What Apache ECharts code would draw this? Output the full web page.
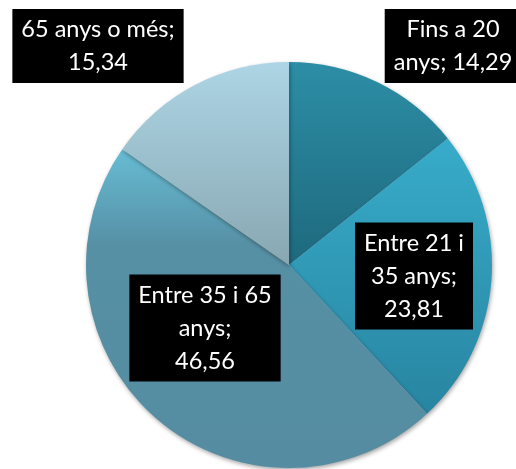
<!DOCTYPE html>
<html>
<head>
<meta charset="utf-8">
<script src="https://cdn.jsdelivr.net/npm/echarts@6/dist/echarts.min.js"></script>
<style>
  html, body { margin: 0; padding: 0; background: #fff; }
  #chart { width: 516px; height: 469px; }
</style>
</head>
<body>
<div id="chart"></div>
<script>
const categories = ['Fins a 20 anys', 'Entre 21 i 35 anys', 'Entre 35 i 65 anys', '65 anys o més'];
const values = [14.29, 23.81, 46.56, 15.34];
// label text as wrapped in the original
const labelTexts = ['Fins a 20\nanys; ', 'Entre 21 i\n35 anys;\n', 'Entre 35 i 65\nanys;\n', '65 anys o més;\n'];

const sliceGradients = [
    ['#2c8ea6', '#1e697d'],
    ['#37acca', '#2885a1'],
    ['#67bcd4', '#5690a5', '#558ca1'],
    ['#add5e5', '#88a7b1']
];
// box centre positions for each label
const labelPos = [[453, 46], [414, 276], [205, 328], [98, 46]];

function grad(stops) {
    return {
        type: 'linear', x: 0, y: 0, x2: 0, y2: 1,
        colorStops: stops.length === 2
            ? [{ offset: 0, color: stops[0] }, { offset: 1, color: stops[1] }]
            : [{ offset: 0, color: stops[0] }, { offset: 0.3, color: stops[1] }, { offset: 1, color: stops[2] }]
    };
}

function fmt(v) {
    return v.toFixed(2).replace('.', ',');
}

const chart = echarts.init(document.getElementById('chart'));

chart.setOption({
    animation: false,
    series: [{
        type: 'pie',
        center: [289, 265],
        radius: 203,
        startAngle: 90,
        clockwise: true,
        itemStyle: {
            shadowBlur: 4,
            shadowColor: 'rgba(0,0,0,0.35)',
            shadowOffsetX: 1,
            shadowOffsetY: 2
        },
        emphasis: { disabled: true },
        label: {
            show: true,
            position: 'inside',
            backgroundColor: '#000',
            color: '#fff',
            fontFamily: 'Lato',
            fontSize: 23.5,
            lineHeight: 33,
            align: 'center',
            padding: [4, 9, 4, 9],
            formatter: function (p) {
                return labelTexts[p.dataIndex] + fmt(p.value);
            }
        },
        labelLine: { show: false },
        labelLayout: function (params) {
            const pos = labelPos[params.dataIndex];
            return { x: pos[0], y: pos[1], align: 'center', verticalAlign: 'middle' };
        },
        data: categories.map(function (name, i) {
            return {
                name: name,
                value: values[i],
                itemStyle: { color: grad(sliceGradients[i]) }
            };
        })
    }]
});
</script>
</body>
</html>
